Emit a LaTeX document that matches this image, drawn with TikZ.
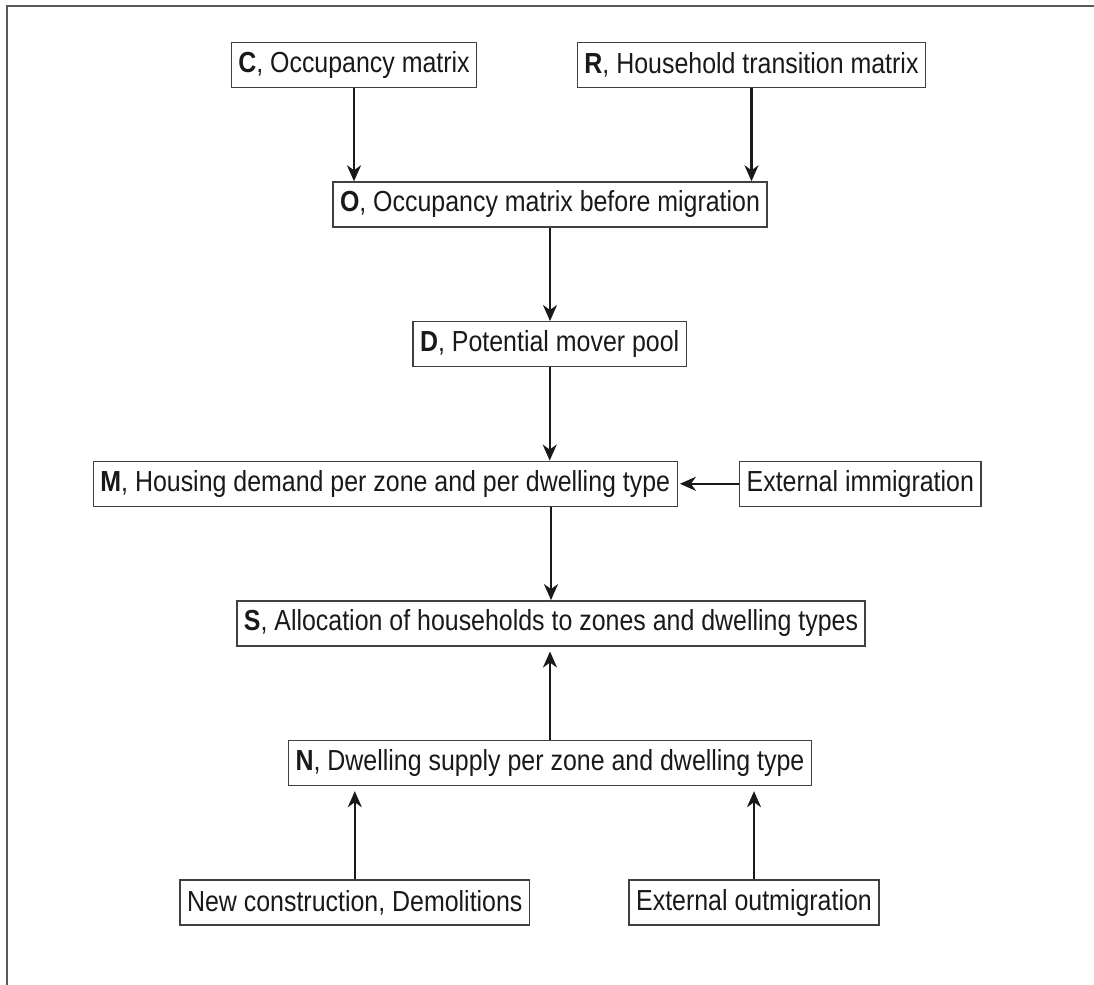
\documentclass[tikz,border=0pt]{standalone}
\usepackage{fontspec}
\setmainfont{Liberation Sans}[FakeStretch=0.86]
\usetikzlibrary{arrows.meta}

\begin{document}
\begin{tikzpicture}[x=0.5pt, y=-0.5pt, > = {Stealth[length=8pt,width=7pt,inset=2.5pt]},
        box/.style={draw=black!75, line width=0.7pt, inner xsep=3.5pt, inner ysep=0pt,
            minimum height=22.5pt, text=black!90, font=\fontsize{14.5}{17}\selectfont},
        link/.style={->, line width=1.1pt, draw=black!90}]
            \useasboundingbox (0,0) rectangle (1094,985);
            \draw[black!65, line width=0.8pt] (7,985) -- (7,6) -- (1094,6);
            \node[box] (C) at (354,65.2) {\textbf{C}, Occupancy matrix};
            \node[box] (R) at (751.5,65.2) {\textbf{R}, Household transition matrix};
            \node[box] (O) at (550,204.5) {\textbf{O}, Occupancy matrix before migration};
            \node[box] (D) at (549.7,344.2) {\textbf{D}, Potential mover pool};
            \node[box] (M) at (385.3,483.8) {\textbf{M}, Housing demand per zone and per dwelling type};
            \node[box] (imm) at (860.3,483.8) {External immigration};
            \node[box] (S) at (551,623.3) {\textbf{S}, Allocation of households to zones and dwelling types};
            \node[box] (N) at (550,763) {\textbf{N}, Dwelling supply per zone and dwelling type};
            \node[box] (new) at (354.8,902.5) {New construction, Demolitions};
            \node[box] (out) at (754,902.5) {External outmigration};
            \draw[link] (C.south) -- (C.south |- O.north);
            \draw[link] (R.south) -- (R.south |- O.north);
            \draw[link] (O.south) -- (O.south |- D.north);
            \draw[link] (D.south) -- (D.south |- M.north);
            \draw[link, shorten >=1pt] (imm.west) -- (M.east);
            \draw[link] (S.north |- M.south) -- (S.north);
            \draw[link, shorten >=2.5pt] (N.north) -- (N.north |- S.south);
            \draw[link, shorten >=2.5pt] (new.north) -- (new.north |- N.south);
            \draw[link, shorten >=2.5pt] (out.north) -- (out.north |- N.south);
        \end{tikzpicture}
\end{document}
